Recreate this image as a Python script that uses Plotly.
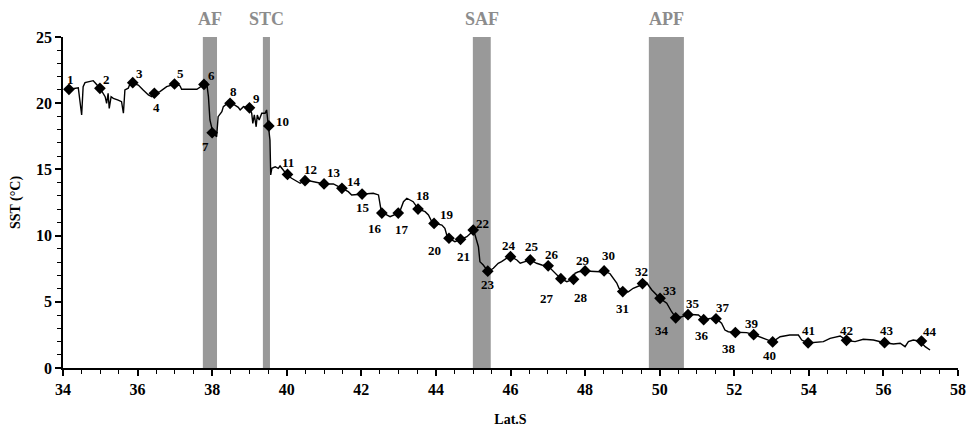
import plotly.graph_objects as go

# Continuous SST track (latitude S, SST in °C)
track_lat = [34.05, 34.16, 34.32, 34.41, 34.50, 34.54, 34.59, 34.72, 34.81, 34.86, 34.95, 34.99,
             35.13, 35.17, 35.21, 35.24, 35.29, 35.35, 35.48, 35.57, 35.62, 35.66, 35.75, 35.80,
             35.87, 36.02, 36.15, 36.29, 36.38, 36.47, 36.60, 36.78, 36.91, 37.00, 37.14, 37.18,
             37.59, 37.72, 37.76, 37.85, 37.90, 37.94, 37.99, 38.02, 38.12, 38.16, 38.26, 38.30,
             38.39, 38.48, 38.61, 38.70, 38.75, 38.84, 39.00, 39.06, 39.09, 39.13, 39.18, 39.21,
             39.26, 39.33, 39.42, 39.46, 39.51, 39.55, 39.57, 39.60, 39.69, 39.77, 39.82, 40.01,
             40.13, 40.36, 40.50, 40.71, 41.01, 41.25, 41.48, 41.65, 41.74, 42.01, 42.32, 42.46,
             42.50, 42.54, 42.68, 42.77, 43.02, 43.08, 43.13, 43.22, 43.31, 43.39, 43.53, 43.71,
             43.80, 43.89, 43.95, 44.16, 44.24, 44.29, 44.34, 44.51, 44.66, 44.83, 44.93, 45.00,
             45.05, 45.14, 45.18, 45.27, 45.40, 45.54, 45.67, 45.76, 45.90, 46.01, 46.17, 46.26,
             46.39, 46.53, 46.70, 46.84, 47.01, 47.15, 47.34, 47.51, 47.68, 47.73, 47.82, 48.00,
             48.40, 48.51, 48.67, 48.85, 48.91, 49.02, 49.16, 49.29, 49.53, 49.65, 49.79, 50.01,
             50.19, 50.32, 50.44, 50.59, 50.76, 51.04, 51.19, 51.35, 51.51, 51.66, 51.75, 51.84,
             52.03, 52.33, 52.52, 52.78, 53.03, 53.23, 53.49, 53.72, 53.81, 53.98, 54.39, 54.57,
             54.84, 55.01, 55.24, 55.46, 55.73, 56.03, 56.27, 56.45, 56.58, 56.67, 56.80, 56.98,
             57.12, 57.25]
track_sst = [21.00, 21.05, 21.13, 21.17, 19.11, 21.25, 21.55, 21.62, 21.70, 21.55, 21.25, 21.13,
             20.49, 19.99, 20.75, 19.61, 20.49, 20.37, 20.24, 20.11, 19.24, 21.00, 21.13, 21.50,
             21.50, 21.37, 21.00, 20.62, 20.49, 20.75, 20.87, 21.25, 21.37, 21.50, 21.30, 21.05,
             21.05, 21.25, 21.37, 21.62, 20.49, 18.73, 17.98, 17.77, 17.47, 18.98, 19.36, 19.74,
             19.94, 19.99, 19.86, 19.69, 19.49, 19.74, 19.61, 19.24, 18.48, 19.11, 18.22, 19.11,
             18.73, 19.24, 19.24, 19.49, 18.22, 17.22, 14.58, 15.08, 15.20, 15.08, 15.26, 14.58,
             14.33, 13.95, 14.20, 14.07, 13.90, 13.90, 13.57, 13.32, 13.07, 13.12, 13.20, 13.07,
             12.18, 11.73, 11.56, 11.43, 11.73, 12.18, 12.56, 12.82, 12.69, 12.56, 11.99, 11.81,
             11.56, 11.05, 10.95, 10.80, 10.55, 10.05, 9.80, 9.54, 9.72, 9.92, 10.17, 10.37,
             10.05, 9.16, 8.03, 7.78, 7.29, 7.53, 7.91, 8.03, 8.29, 8.41, 8.16, 7.91,
             8.03, 8.16, 7.91, 7.78, 7.70, 7.27, 6.76, 6.52, 6.70, 7.15, 7.27, 7.33,
             7.27, 7.33, 7.12, 6.42, 6.02, 5.74, 5.76, 6.02, 6.34, 6.44, 5.89, 5.26,
             4.89, 4.25, 3.78, 3.87, 4.06, 4.00, 3.63, 3.75, 3.75, 3.38, 2.87, 2.74,
             2.70, 2.67, 2.53, 2.24, 1.98, 2.36, 2.49, 2.49, 2.11, 1.89, 1.99, 2.24,
             2.42, 2.08, 1.99, 2.17, 2.11, 1.91, 1.81, 1.87, 1.61, 1.99, 2.11, 2.02,
             1.61, 1.36]

# Stations
station_id = list(range(1, 45))
station_lat = [34.16, 34.99, 35.87, 36.45, 36.99, 37.78, 38.00, 38.48, 39.00, 39.52,
               40.02, 40.49, 41.00, 41.48, 42.02, 42.55, 42.99, 43.52, 43.95, 44.35,
               44.66, 45.00, 45.39, 46.00, 46.53, 47.01, 47.35, 47.69, 48.00, 48.51,
               49.01, 49.54, 50.01, 50.43, 50.76, 51.18, 51.51, 52.03, 52.52, 53.03,
               53.98, 55.01, 56.03, 57.02]
station_sst = [21.05, 21.12, 21.55, 20.75, 21.45, 21.42, 17.77, 19.99, 19.65, 18.28,
               14.62, 14.15, 13.90, 13.57, 13.14, 11.70, 11.70, 12.00, 10.92, 9.80,
               9.72, 10.42, 7.31, 8.41, 8.16, 7.72, 6.75, 6.70, 7.33, 7.33,
               5.77, 6.38, 5.26, 3.79, 4.03, 3.65, 3.72, 2.68, 2.52, 1.97,
               1.90, 2.09, 1.91, 2.03]

# Fronts
front_name = ["AF", "STC", "SAF", "APF"]
front_lat0 = [37.75, 39.36, 44.99, 49.71]
front_lat1 = [38.13, 39.55, 45.47, 50.65]

# label offsets (pixels) for station numbers: style only
label_dx = [2, 7, 7, 2, 6, 8, -7, 3, 7, 14, 0, 5, 10, 12, 1, -7, 4, 5, 13, -14,
            3, 9, 0, -2, 2, 4, -14, 7, -2, 4, 0, -1, 10, -14, 5, -2, 7, -6, -2, -3,
            0, 0, 2, 9]
label_dy = [10, 9, 9, -14, 11, 9, -14, 12, 9, 4, 12, 11, 11, 7, -13, -15, -16, 14, 9, -12,
            -17, 7, -13, 11, 13, 11, -20, -18, 10, 15, -17, 12, 8, -13, 11, -16, 11, -16, 11, -14,
            12, 10, 12, 10]

SERIF = "Liberation Serif"

fig = go.Figure()

for n, a, b in zip(front_name, front_lat0, front_lat1):
    fig.add_shape(type="rect", xref="x", yref="y", x0=a, x1=b, y0=0, y1=25,
                  fillcolor="#999999", line=dict(width=0), layer="below")
    fig.add_annotation(x=(a + b) / 2, y=25, xref="x", yref="y", text=n, showarrow=False,
                       yanchor="bottom", yshift=6,
                       font=dict(family=SERIF, size=18, color="#8c8c8c", weight="bold"))

fig.add_trace(go.Scatter(x=track_lat, y=track_sst, mode="lines",
                         line=dict(color="black", width=1.4), hoverinfo="skip",
                         showlegend=False))
fig.add_trace(go.Scatter(x=station_lat, y=station_sst, mode="markers",
                         marker=dict(symbol="diamond", color="black", size=9),
                         showlegend=False))

for sid, la, ss, dx, dy in zip(station_id, station_lat, station_sst, label_dx, label_dy):
    fig.add_annotation(x=la, y=ss, text=str(sid), showarrow=False,
                       xshift=dx, yshift=dy,
                       font=dict(family=SERIF, size=13, color="black", weight="bold"))

axis_font = dict(family=SERIF, size=16, color="black", weight="bold")

fig.update_layout(
    width=976, height=427,
    margin=dict(l=63, r=18, t=37, b=59, autoexpand=False),
    plot_bgcolor="white", paper_bgcolor="white",
    xaxis=dict(range=[34, 58], dtick=2, tick0=34, showgrid=False, zeroline=False,
               automargin=False,
               showline=True, linecolor="black", linewidth=1.5,
               ticks="outside", ticklen=6, tickwidth=1.5, tickcolor="black",
               minor=dict(dtick=0.5, ticks="outside", ticklen=4, tickcolor="black", tickwidth=1),
               tickfont=axis_font,
               title=dict(text="Lat.S", font=dict(family=SERIF, size=14, color="black", weight="bold"),
                          standoff=18)),
    yaxis=dict(range=[0, 25], dtick=5, showgrid=False, zeroline=False,
               automargin=False,
               showline=True, linecolor="black", linewidth=1.5,
               ticks="outside", ticklen=6, tickwidth=1.5, tickcolor="black",
               minor=dict(dtick=1, ticks="outside", ticklen=4, tickcolor="black", tickwidth=1),
               tickfont=axis_font,
               title=dict(text="SST (°C)", font=dict(family=SERIF, size=14, color="black", weight="bold"),
                          standoff=12)),
    xaxis2=dict(range=[34, 58], dtick=2, tick0=34, overlaying="x", side="bottom",
                showgrid=False, zeroline=False, showline=False, showticklabels=False,
                automargin=False,
                ticks="inside", ticklen=5, tickwidth=1.5, tickcolor="black"),
    yaxis2=dict(range=[0, 25], dtick=5, overlaying="y", side="left",
                showgrid=False, zeroline=False, showline=False, showticklabels=False,
                automargin=False,
                ticks="inside", ticklen=4, tickwidth=1.5, tickcolor="black"),
)

fig.write_html("out.html")
